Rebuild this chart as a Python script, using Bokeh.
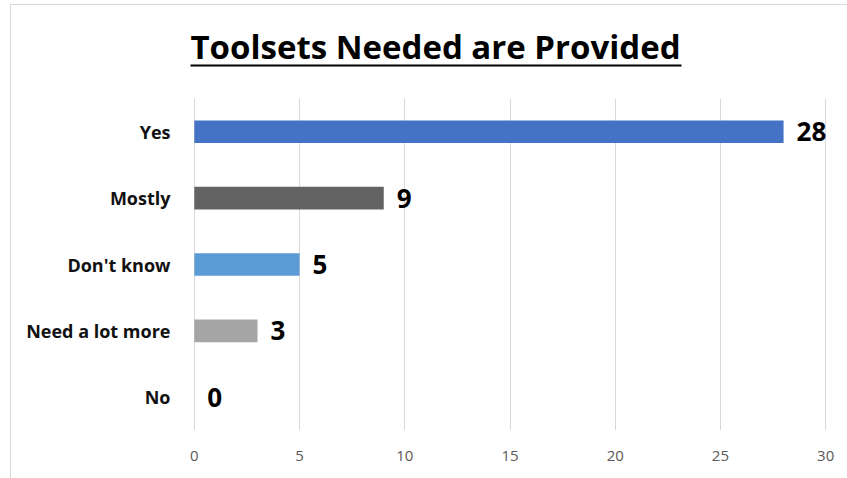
from bokeh.plotting import figure
from bokeh.layouts import column, row
from bokeh.models import ColumnDataSource, Range1d, FactorRange
from bokeh.embed import file_html
from bokeh.resources import INLINE
from bokeh.core.properties import value

categories = ["Yes", "Mostly", "Don't know", "Need a lot more", "No"]
counts = [28, 9, 5, 3, 0]
colors = ["#4472C4", "#636363", "#5B9BD5", "#A5A5A5", "#FFC000"]
x_ticks = [0, 5, 10, 15, 20, 25, 30]
title_text = "Toolsets Needed are Provided"

FONT = "'Open Sans', sans-serif"

# ---- title strip (pixel-like coordinates) ----
t = figure(width=836, height=93, output_backend="svg", toolbar_location=None,
           x_range=Range1d(11, 847), y_range=Range1d(98, 5),
           min_border=0)
t.axis.visible = False
t.grid.grid_line_color = None
t.outline_line_color = None
t.text(x=[435], y=[46], text=[title_text], text_font=value(FONT),
       text_font_style="bold", text_font_size="33px", text_align="center",
       text_baseline="middle", text_color="black")
t.segment(x0=[190], y0=[65], x1=[681], y1=[65], line_color="black", line_width=2)

# ---- main chart ----
src = ColumnDataSource(dict(cat=categories, val=counts, color=colors,
                            lab=[str(v) for v in counts]))

p = figure(width=836, height=380, output_backend="svg", toolbar_location=None,
           y_range=FactorRange(*reversed(categories)),
           x_range=Range1d(-0.04, 30.04),
           min_border_left=182, min_border_right=21, min_border_top=0,
           min_border_bottom=48)
p.outline_line_color = None

p.hbar(y="cat", right="val", left=0, height=0.34, fill_color="color",
       line_color=None, source=src)
p.text(x="val", y="cat", text="lab", source=src, x_offset=13,
       text_font=value(FONT), text_font_style="bold", text_font_size="26px",
       text_baseline="middle", text_align="left", text_color="black")

p.xaxis.ticker = x_ticks
p.xaxis.axis_line_color = None
p.xaxis.major_tick_line_color = None
p.xaxis.minor_tick_line_color = None
p.xaxis.major_label_text_font = FONT
p.xaxis.major_label_text_font_size = "15px"
p.xaxis.major_label_text_color = "#595959"
p.xaxis.major_label_standoff = 14

p.yaxis.axis_line_color = None
p.yaxis.major_tick_line_color = None
p.yaxis.minor_tick_line_color = None
p.yaxis.major_label_text_font = FONT
p.yaxis.major_label_text_font_style = "bold"
p.yaxis.major_label_text_font_size = "18px"
p.yaxis.major_label_text_color = "#111111"
p.yaxis.major_label_standoff = 17

p.xgrid.grid_line_color = "#d9d9d9"
p.ygrid.grid_line_color = None

layout = column(row(t, spacing=0), p, spacing=0, margin=(4, 0, 0, 10),
                styles={"border-left": "1px solid #d9d9d9",
                        "border-top": "1px solid #d9d9d9"})

open("out.html", "w").write(file_html(layout, INLINE))
